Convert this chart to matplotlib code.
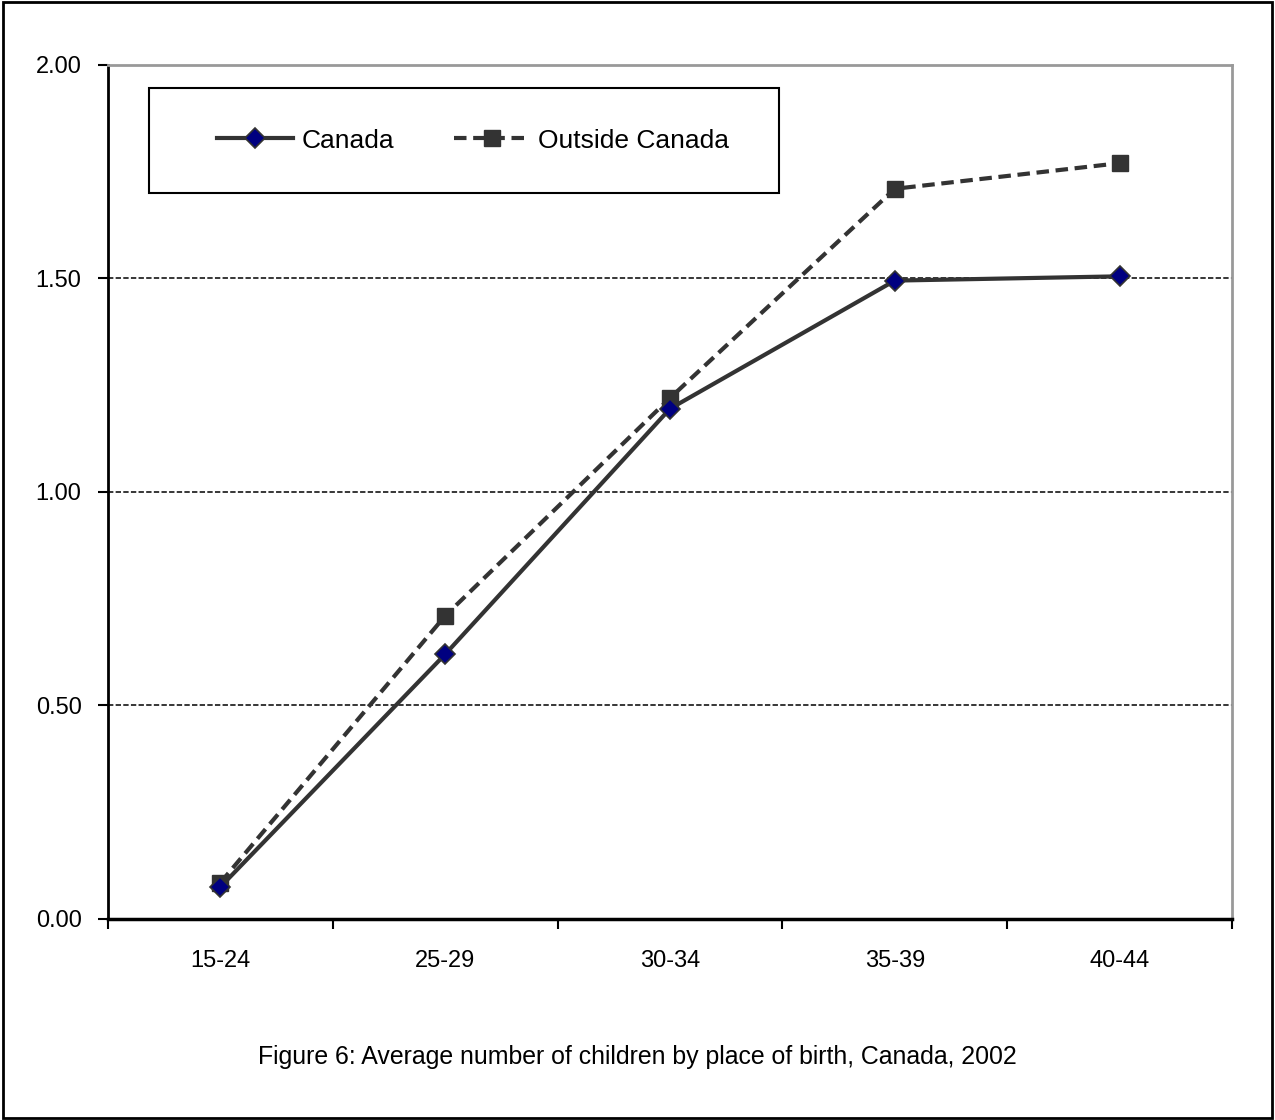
import numpy as np
import matplotlib.pyplot as plt
from matplotlib.patches import Rectangle

plt.rcParams['font.family'] = ['Liberation Sans', 'DejaVu Sans']

# age groups and average number of children
ages = ['15-24', '25-29', '30-34', '35-39', '40-44']
canada = [0.075, 0.62, 1.195, 1.495, 1.505]
outside = [0.085, 0.71, 1.22, 1.71, 1.77]
yticks = [0.0, 0.5, 1.0, 1.5, 2.0]

fig = plt.figure(figsize=(12.75, 11.2), dpi=100)
ax = fig.add_axes([0.0847, 0.1795, 0.8816, 0.7625])

x = np.arange(len(ages))
ax.plot(x, canada, color='#333333', lw=3, marker='D', ms=10,
        mfc='#000080', mec='#333333', mew=1.2, label='Canada', zorder=4)
ax.plot(x, outside, color='#333333', lw=3, ls=(0, (3, 1.6)), marker='s', ms=12,
        mfc='#333333', mec='#333333', label='Outside Canada', zorder=3)

ax.set_xlim(-0.5, len(ages) - 0.5)
ax.set_ylim(0, 2)
ax.set_yticks(yticks)
ax.set_yticklabels(['%.2f' % v for v in yticks], fontsize=17)
ax.set_xticks(x)
ax.set_xticklabels(ages, fontsize=17)
ax.set_xticks(np.arange(len(ages) + 1) - 0.5, minor=True)
ax.tick_params(axis='x', which='major', length=0, pad=22)
ax.tick_params(axis='x', which='minor', length=7, width=1.5, direction='out')
ax.tick_params(axis='y', length=7, width=1.5, direction='out', pad=12)

for v in yticks[1:-1]:
    ax.axhline(v, color='black', lw=1.1, ls=(0, (3.5, 1.5)), zorder=1)

ax.spines['left'].set_linewidth(2)
ax.spines['bottom'].set_linewidth(2.5)
ax.spines['top'].set_color('#999999')
ax.spines['right'].set_color('#999999')
ax.spines['top'].set_linewidth(2)
ax.spines['right'].set_linewidth(2)

# legend box
ax.add_patch(Rectangle((0.0365, 0.850), 0.5605, 0.123, transform=ax.transAxes,
                       fill=True, fc='white', ec='black', lw=1.5, zorder=5))
ax.legend(loc='center', bbox_to_anchor=(0.0365 + 0.5605 / 2 + 0.008, 0.9115), ncol=2,
          frameon=False, fontsize=19, handlelength=2.9, handletextpad=0.3,
          columnspacing=2.27).set_zorder(6)

fig.text(0.5, 0.056, 'Figure 6: Average number of children by place of birth, Canada, 2002',
         ha='center', va='center', fontsize=17.9)

fig.patches.append(Rectangle((0.002, 0.002), 0.996, 0.996, transform=fig.transFigure,
                             fill=False, ec='black', lw=2))

fig.savefig('out.png', dpi=100)
